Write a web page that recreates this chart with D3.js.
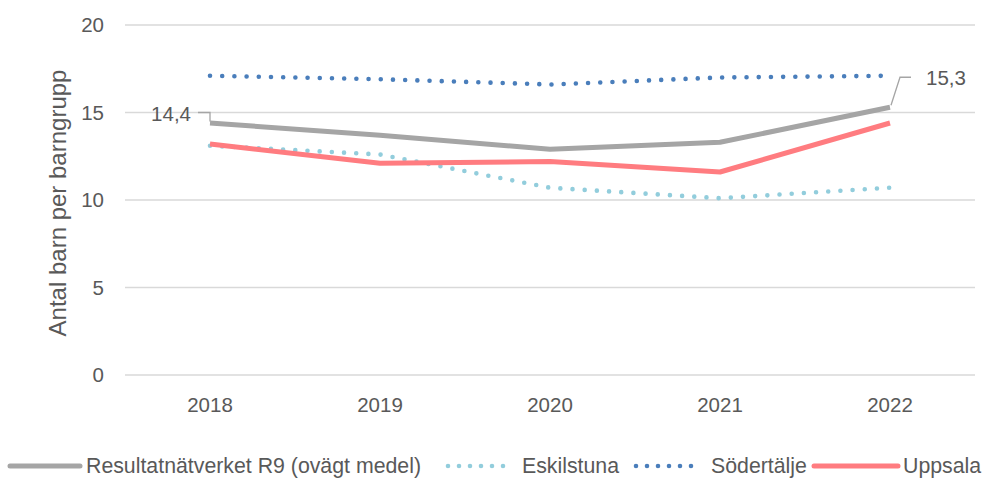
<!DOCTYPE html>
<html>
<head>
<meta charset="utf-8">
<script src="https://cdn.jsdelivr.net/npm/d3@7"></script>
<style>
  body { margin: 0; background: #fff; }
  text { font-family: "Liberation Sans", Arial, sans-serif; fill: #595959; }
</style>
</head>
<body>
<svg id="chart"></svg>
<script>
var years = ["2018", "2019", "2020", "2021", "2022"];
var yTicks = [0, 5, 10, 15, 20];
var r9 = [14.4, 13.7, 12.9, 13.3, 15.3];
var eskilstuna = [13.1, 12.6, 10.7, 10.1, 10.7];
var sodertalje = [17.1, 16.9, 16.6, 17.0, 17.1];
var uppsala = [13.2, 12.1, 12.2, 11.6, 14.4];
var seriesNames = ["Resultatnätverket R9 (ovägt medel)", "Eskilstuna", "Södertälje", "Uppsala"];

var W = 984, H = 478;
var margin = { top: 25, right: 9, bottom: 103, left: 125 },
  width = W - margin.left - margin.right,
  height = H - margin.top - margin.bottom;

var svg = d3.select("#chart")
  .attr("width", W)
  .attr("height", H)
  .append("g")
  .attr("transform", "translate(" + margin.left + "," + margin.top + ")");

var x = d3.scaleBand()
  .domain(years)
  .range([0, width]);

var y = d3.scaleLinear()
  .domain([0, 20])
  .range([height, 0]);

// gridlines
svg.append("g")
  .selectAll("line")
  .data(yTicks)
  .enter()
  .append("line")
  .attr("x1", 0)
  .attr("x2", width)
  .attr("y1", d => y(d))
  .attr("y2", d => y(d))
  .attr("stroke", "#d9d9d9")
  .attr("stroke-width", 1.3);

// y axis labels
var yAxis = svg.append("g")
  .attr("transform", "translate(-10,0)")
  .call(d3.axisLeft(y).tickValues(yTicks).tickSize(0).tickPadding(11));
yAxis.select(".domain").remove();
yAxis.selectAll("text").style("font-size", "20.5px").attr("fill", "#595959");

// x axis labels
var xAxis = svg.append("g")
  .attr("transform", "translate(0," + height + ")")
  .call(d3.axisBottom(x).tickSize(0).tickPadding(22));
xAxis.select(".domain").remove();
xAxis.selectAll("text").style("font-size", "20.5px").attr("fill", "#595959");

svg.append("text")
  .attr("transform", "rotate(-90)")
  .attr("x", -(height / 2) - 3)
  .attr("y", -59)
  .style("text-anchor", "middle")
  .style("font-size", "24px")
  .text("Antal barn per barngrupp");

var line = d3.line()
  .x((d, i) => x(years[i]) + x.bandwidth() / 2)
  .y(d => y(d));

var styles = [
  { data: r9, color: "#a5a5a5", width: 5, dash: null },
  { data: eskilstuna, color: "#92cddc", width: 4.6, dash: "0 12.2" },
  { data: sodertalje, color: "#4a7ebb", width: 4.6, dash: "0 12.2" },
  { data: uppsala, color: "#ff7c80", width: 5, dash: null }
];

// draw in order so grey and red overlay dots
[1, 2, 0, 3].forEach(i => {
  var s = styles[i];
  svg.append("path")
    .datum(s.data)
    .attr("fill", "none")
    .attr("stroke", s.color)
    .attr("stroke-width", s.width)
    .attr("stroke-linecap", s.dash ? "round" : "butt")
    .attr("stroke-linejoin", "round")
    .attr("stroke-dasharray", s.dash)
    .attr("d", line);
});

// data labels for R9
var px0 = x(years[0]) + x.bandwidth() / 2, py0 = y(r9[0]);
svg.append("path")
  .attr("d", "M" + px0 + "," + (py0 - 1.5) + "V" + (py0 - 10.5) + "H" + (px0 - 12))
  .attr("fill", "none")
  .attr("stroke", "#a5a5a5")
  .attr("stroke-width", 1.3);
svg.append("text")
  .attr("x", px0 - 19)
  .attr("y", py0 - 2)
  .style("text-anchor", "end")
  .style("font-size", "20.5px")
  .attr("fill", "#404040")
  .text(d3.format(".1f")(r9[0]).replace(".", ","));

var px4 = x(years[4]) + x.bandwidth() / 2, py4 = y(r9[4]);
svg.append("path")
  .attr("d", "M" + (px4 + 1) + "," + (py4 - 2) + "L" + (px4 + 10) + "," + (py4 - 30) + "H" + (px4 + 21))
  .attr("fill", "none")
  .attr("stroke", "#a5a5a5")
  .attr("stroke-width", 1.3);
svg.append("text")
  .attr("x", px4 + 36)
  .attr("y", py4 - 22)
  .style("font-size", "20.5px")
  .attr("fill", "#404040")
  .text(d3.format(".1f")(r9[4]).replace(".", ","));

// legend
var legend = d3.select("#chart").append("g");
var legendPos = [
  { sx: 10, ex: 80, tx: 86 },
  { sx: 448, ex: 504, tx: 522 },
  { sx: 636, ex: 700, tx: 711 },
  { sx: 814, ex: 898, tx: 903 }
];
seriesNames.forEach((name, i) => {
  var s = styles[i], p = legendPos[i];
  legend.append("line")
    .attr("x1", p.sx).attr("x2", p.ex)
    .attr("y1", 466).attr("y2", 466)
    .attr("stroke", s.color)
    .attr("stroke-width", s.width)
    .attr("stroke-linecap", "round")
    .attr("stroke-dasharray", s.dash ? "0 11" : null);
  legend.append("text")
    .attr("x", p.tx)
    .attr("y", 473)
    .style("font-size", "21.3px")
    .text(name);
});
</script>
</body>
</html>
